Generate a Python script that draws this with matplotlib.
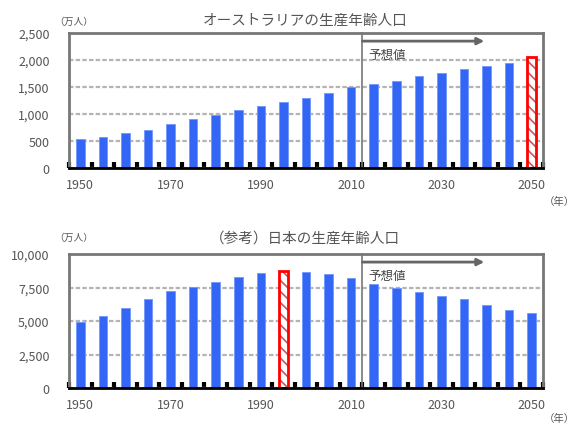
import numpy as np
import matplotlib
matplotlib.use('Agg')
import matplotlib.pyplot as plt

plt.rcParams['font.family'] = ['Noto Sans CJK JP', 'DejaVu Sans']
plt.rcParams['hatch.linewidth'] = 1.2

years = list(range(1950, 2055, 5))
# working-age population (万人)
australia = [535, 565, 645, 700, 810, 900, 985, 1065, 1145, 1230,
             1305, 1390, 1500, 1560, 1620, 1700, 1755, 1840, 1890, 1950, 2050]
japan = [4950, 5400, 5975, 6675, 7225, 7550, 7900, 8250, 8575, 8720,
         8650, 8500, 8200, 7750, 7430, 7200, 6880, 6650, 6200, 5850, 5600]

aus_title = 'オーストラリアの生産年齢人口'
jpn_title = '（参考）日本の生産年齢人口'
forecast_label = '予想値'
tick_years = [1950, 1970, 1990, 2010, 2030, 2050]

BLUE = '#3366f5'
GRAY = '#555555'

fig = plt.figure(figsize=(5.87, 4.35), dpi=100)


def panel(rect, values, ymax, ystep, hi_year, title, title_y, unit_y, year_y):
    ax = fig.add_axes(rect)
    x = np.arange(len(years))
    hi = years.index(hi_year)
    blue_vals = [0 if i == hi else v for i, v in enumerate(values)]
    ax.bar(x, blue_vals, width=0.38, color=BLUE, edgecolor='#7096ff',
           linewidth=0.6, zorder=3)
    # highlighted bar: white with hatching, red outline
    ax.bar(hi, values[hi], width=0.42, color='white', edgecolor='#c05a5a',
           hatch='\\\\\\', linewidth=0, zorder=3)
    ax.bar(hi, values[hi], width=0.42, fill=False, edgecolor='#ff0000',
           linewidth=2, zorder=4)

    ax.set_xlim(-0.5, len(years) - 0.5)
    ax.set_ylim(0, ymax)
    yt = np.arange(0, ymax + 1, ystep)
    ax.set_yticks(yt)
    ax.set_yticklabels(['{:,}'.format(v) for v in yt], color=GRAY, fontsize=9)
    ax.set_xticks([years.index(y) for y in tick_years])
    ax.set_xticklabels([str(y) for y in tick_years], color=GRAY, fontsize=9)
    ax.set_xticks(np.arange(len(years) + 1) - 0.5, minor=True)
    ax.tick_params(axis='x', which='major', length=0, pad=7)
    ax.tick_params(axis='x', which='minor', direction='in', length=4,
                   width=3, color='black')
    ax.tick_params(axis='y', length=0, pad=14)
    ax.yaxis.grid(True, color='#b4b4b4', linestyle=(0, (2, 1)), linewidth=1.6,
                  zorder=1)
    for s in ['top', 'left', 'right']:
        ax.spines[s].set_color('#777777')
        ax.spines[s].set_linewidth(2)
    ax.spines['bottom'].set_color('black')
    ax.spines['bottom'].set_linewidth(2)
    ax.spines['bottom'].set_zorder(5)

    # forecast box and arrow
    xb = years.index(2010) + 0.5
    ax.plot([xb, xb], [0, ymax], color='#777777', linewidth=1.2, zorder=2,
            clip_on=False)
    ax.annotate('', xy=(17.9, ymax * 0.94), xytext=(xb, ymax * 0.94),
                arrowprops=dict(arrowstyle='-|>', color='#666666', lw=2,
                                mutation_scale=10, shrinkA=0, shrinkB=0))
    ax.text(xb + 0.25, ymax * 0.84, forecast_label, fontsize=9, color='#444444',
            va='center', ha='left')

    fig.text(0.52, title_y, title, fontsize=10.5, color=GRAY, ha='center',
             va='center')
    fig.text(0.125, unit_y, '（万人）', fontsize=7, color=GRAY, ha='center',
             va='center')
    fig.text(0.953, year_y, '（年）', fontsize=7.5, color=GRAY, ha='center',
             va='center')
    return ax


panel([0.1175, 0.6115, 0.8075, 0.3103], australia, 2500, 500, 2050,
      aus_title, 0.952, 0.950, 0.535)
panel([0.1175, 0.1057, 0.8075, 0.308], japan, 10000, 2500, 1995,
      jpn_title, 0.452, 0.452, 0.037)

fig.savefig('out.png', dpi=100)
